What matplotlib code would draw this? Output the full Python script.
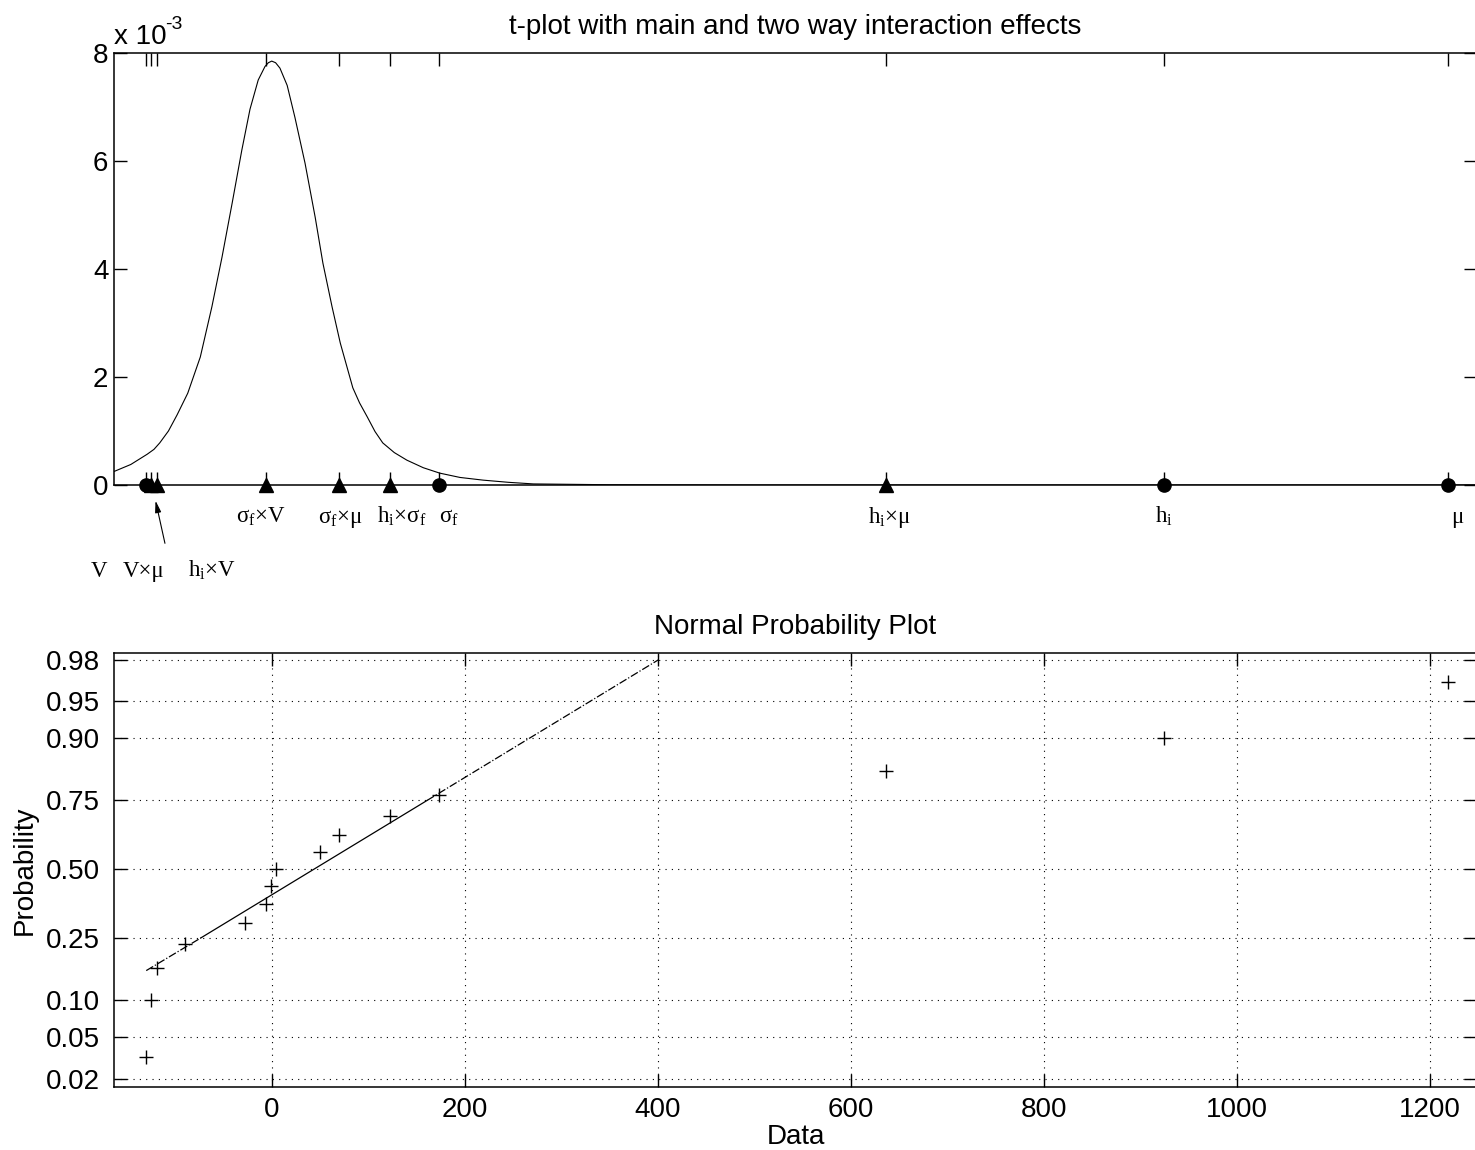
import matplotlib
matplotlib.use('Agg')
import matplotlib.pyplot as plt
import numpy as np
from statistics import NormalDist

plt.rcParams['font.family'] = ['Liberation Sans', 'DejaVu Sans']
plt.rcParams['mathtext.fontset'] = 'custom'
plt.rcParams['mathtext.rm'] = 'Liberation Serif'
plt.rcParams['mathtext.it'] = 'Liberation Serif:italic'

# main effects (circles) and two way interactions (triangles)
main_names = ['V', r'σ$_\mathrm{f}$', r'h$_\mathrm{i}$', 'μ']
main_vals = [-130.0, 173.3, 924.4, 1218.6]
inter_names = ['V×μ', r'h$_\mathrm{i}$×V', r'σ$_\mathrm{f}$×V', r'σ$_\mathrm{f}$×μ',
               r'h$_\mathrm{i}$×σ$_\mathrm{f}$', r'h$_\mathrm{i}$×μ']
inter_vals = [-125.0, -118.8, -5.9, 69.7, 122.5, 636.4]
# higher order effects, only in the probability plot
other_vals = [-89.8, -27.7, -0.7, 4.5, 50.1]

# t density (units of 1e-3)
curve_x = [-163.4, -146, -129, -122, -116, -107, -98, -87, -74, -62, -51.5, -41, -31, -22.5,
           -14, -7, -3.5, 0, 4, 8.5, 16, 24, 34.5, 45, 53, 62.5, 71, 84, 91, 99, 107, 115,
           127, 140, 157, 174, 195, 219, 245, 271, 350, 500, 800, 1248.6]
curve_y = [0.25, 0.38, 0.57, 0.66, 0.78, 1.00, 1.30, 1.70, 2.37, 3.30, 4.22, 5.22, 6.20, 6.96,
           7.50, 7.75, 7.82, 7.85, 7.82, 7.72, 7.40, 6.81, 5.96, 4.96, 4.11, 3.30, 2.63, 1.80,
           1.52, 1.26, 0.99, 0.78, 0.60, 0.46, 0.32, 0.22, 0.14, 0.09, 0.05, 0.02, 0.005,
           0.0, 0.0, 0.0]

# normal probability plot
probs = [0.033, 0.100, 0.167, 0.233, 0.300, 0.367, 0.433, 0.500, 0.567, 0.633,
         0.700, 0.767, 0.833, 0.900, 0.967]
fit_x = [-130.0, -73.5, 161.0, 400.7]
fit_p = [0.16, 0.25, 0.75, 0.98]
prob_ticks = [0.02, 0.05, 0.10, 0.25, 0.50, 0.75, 0.90, 0.95, 0.98]
data_ticks = [0, 200, 400, 600, 800, 1000, 1200]

# label placement (x, row)
label_pos = {
    r'σ$_\mathrm{f}$×V': (-11, 0), r'σ$_\mathrm{f}$×μ': (71, 0),
    r'h$_\mathrm{i}$×σ$_\mathrm{f}$': (135, 0), r'σ$_\mathrm{f}$': (184, 0),
    r'h$_\mathrm{i}$×μ': (640, 0), r'h$_\mathrm{i}$': (924, 0), 'μ': (1228, 0),
    'V': (-179, 1), 'V×μ': (-133, 1), r'h$_\mathrm{i}$×V': (-62, 1),
}
row_y = [-0.70, -1.70]

W, H = 1475, 1150
fig = plt.figure(figsize=(W / 100, H / 100), dpi=100)
xlim = (-163.4, 1248.6)

# ---- top panel
ax1 = fig.add_axes([114 / W, 1 - 485 / H, 1363 / W, 432 / H])
ax1.plot(curve_x, curve_y, color='k', lw=0.8)
ax1.plot(main_vals, [0] * len(main_vals), 'ko', ms=9.5, clip_on=False, zorder=5)
ax1.plot(inter_vals, [0] * len(inter_vals), 'k^', ms=10, clip_on=False, zorder=5)
ax1.set_xlim(xlim)
ax1.set_ylim(0, 8)
ax1.set_xticks(sorted(main_vals + inter_vals))
ax1.set_xticklabels([])
ax1.set_yticks([0, 2, 4, 6, 8])
ax1.tick_params(direction='in', length=9.5, width=1, top=True, right=True,
                labelsize=20, pad=4)
for name in main_names + inter_names:
    x, row = label_pos[name]
    ax1.text(x, row_y[row], name, ha='center', va='baseline', fontsize=16.5,
             family='Liberation Serif', clip_on=False)
ax1.annotate('', xy=(-121, -0.24), xytext=(-110, -1.13), annotation_clip=False,
             arrowprops=dict(arrowstyle='-|>,head_length=0.7,head_width=0.18',
                             color='k', lw=0.8))
ax1.text(0, 1.008, 'x 10', transform=ax1.transAxes, fontsize=20, va='bottom', ha='left')
ax1.text(0.0375, 1.047, '-3', transform=ax1.transAxes, fontsize=14, va='bottom', ha='left')
ax1.set_title('t-plot with main and two way interaction effects', fontsize=20, pad=14)

# ---- bottom panel
nd = NormalDist()
to_z = np.vectorize(nd.inv_cdf, otypes=[float])
to_p = np.vectorize(nd.cdf, otypes=[float])


def forward(p):
    return to_z(np.clip(np.asarray(p, dtype=float), 1e-9, 1 - 1e-9))


def inverse(z):
    return to_p(np.asarray(z, dtype=float))


effects = sorted(main_vals + inter_vals + other_vals)
ax2 = fig.add_axes([114 / W, 1 - 1087 / H, 1363 / W, 434 / H])
ax2.set_yscale('function', functions=(forward, inverse))
ax2.plot(effects, probs, 'k+', ms=10, mew=1)
ax2.plot(fit_x[:2], fit_p[:2], color='k', ls='-.', lw=0.9)
ax2.plot(fit_x[1:3], fit_p[1:3], color='k', ls='-', lw=0.9)
ax2.plot(fit_x[2:], fit_p[2:], color='k', ls='-.', lw=0.9)
ax2.set_xlim(xlim)
ax2.set_ylim(nd.cdf(-2.136), nd.cdf(2.12))
ax2.set_yticks(prob_ticks)
ax2.set_yticklabels(['%.2f' % p for p in prob_ticks])
ax2.set_xticks(data_ticks)
ax2.yaxis.set_minor_locator(matplotlib.ticker.NullLocator())
ax2.grid(True, color='k', ls=(0, (1, 4.7)), lw=0.8)
ax2.tick_params(direction='in', length=9.5, width=1, top=True, right=True, labelsize=20)
ax2.tick_params(axis='y', pad=10)
ax2.tick_params(axis='x', pad=7)
ax2.set_title('Normal Probability Plot', fontsize=20, pad=14)
ax2.set_xlabel('Data', fontsize=20, labelpad=1)
ax2.set_ylabel('Probability', fontsize=20, labelpad=6)

for ax in (ax1, ax2):
    for s in ax.spines.values():
        s.set_linewidth(1.1)

fig.savefig('out.png', dpi=100)
